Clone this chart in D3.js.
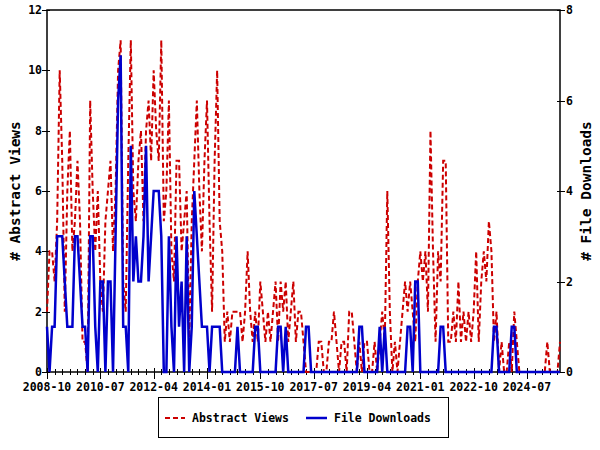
<!DOCTYPE html>
<html><head><meta charset="utf-8">
<script src="https://cdn.jsdelivr.net/npm/d3@7/dist/d3.min.js"></script>
<style>body{margin:0;background:#fff}svg{display:block}text{font-family:"DejaVu Sans Mono",monospace;font-weight:bold}</style>
</head><body><svg id="c" width="600" height="450"></svg>
<script>
const startYear = 2008, startMonth = 10;
const tickLabels = ["2008-10","2010-07","2012-04","2014-01","2015-10","2017-07","2019-04","2021-01","2022-10","2024-07"];
const abstractViews = [2,4,4,3,5,10,7,2,6,8,4,5,7,5,1,1,0,9,6,4,6,3,2,5,6,7,4,6,10,11,3,2,7,11,6,5,7,8,5,8,9,7,10,8,7,11,5,6,9,4,3,7,7,4,5,6,1,5,7,9,6,4,7,9,5,2,7,10,5,4,1,2,1,2,2,2,2,1,2,4,2,1,2,1,3,2,1,2,1,2,3,1,3,2,3,1,2,3,1,2,2,1,0,0,0,0,0,1,1,0,0,1,1,2,1,0,1,1,0,2,2,1,0,1,0,1,1,0,0,1,0,1,2,1,6,2,0,1,0,1,2,3,2,3,2,1,3,4,3,4,2,8,4,1,4,3,7,7,1,1,2,1,3,1,2,1,2,1,2,4,1,3,4,3,5,4,1,2,0,1,0,0,1,0,2,1,0,0,0,0,0,0,0,0,0,0,0,1,0,0,0,0,1];
const fileDownloads = [1,0,1,1,3,3,3,2,1,1,1,3,3,2,1,1,0,3,3,1,0,2,2,0,2,2,0,3,6,7,1,1,0,5,2,3,2,2,3,5,2,3,4,4,4,3,0,0,3,1,0,3,1,2,0,3,0,1,4,3,2,1,1,1,0,1,1,1,1,0,0,0,0,0,0,1,0,0,0,0,0,0,1,1,0,0,0,0,0,0,0,1,1,0,1,0,0,0,0,0,0,0,1,1,0,0,0,0,0,0,0,0,0,0,0,0,0,0,0,0,0,0,0,1,1,0,0,0,0,0,0,1,0,1,0,0,0,0,0,0,0,0,1,1,0,2,2,0,0,0,0,0,0,0,0,1,1,0,0,0,0,0,0,0,0,0,0,0,0,0,0,0,0,0,0,0,1,1,0,0,0,0,0,1,1,0,0,0,0,0,0,0,0,0,0,0,0,0,0,0,0,0,0];
const leftTicks = [0,2,4,6,8,10,12];
const rightTicks = [0,2,4,6,8];
const seriesNames = ["Abstract Views","File Downloads"];

const svg = d3.select("#c");
const L=47, R=560, T=10, B=372;
const n = abstractViews.length;
const x = d3.scaleLinear().domain([0, n-1]).range([L, R]);
const yL = d3.scaleLinear().domain([0,12]).range([B, T]);
const yR = d3.scaleLinear().domain([0,8]).range([B, T]);
const FS = 11.5;

svg.append("rect").attr("x",L).attr("y",T).attr("width",R-L).attr("height",B-T)
  .attr("fill","none").attr("stroke","#000").attr("stroke-width",1.5);

const xg = svg.append("g").attr("transform",`translate(0,${B})`);
const minor = d3.range(0, n, 3);
xg.selectAll("line.mi").data(minor).join("line")
  .attr("x1",d=>Math.round(x(d))+0.5).attr("x2",d=>Math.round(x(d))+0.5)
  .attr("y1",-3).attr("y2",3).attr("stroke","#000");
const majorIdx = tickLabels.map((_,i)=>i*21);
xg.selectAll("line.ma").data(majorIdx).join("line")
  .attr("x1",d=>Math.round(x(d))+0.5).attr("x2",d=>Math.round(x(d))+0.5)
  .attr("y1",-4).attr("y2",7).attr("stroke","#000");
xg.selectAll("text").data(tickLabels).join("text")
  .attr("x",(d,i)=>x(majorIdx[i])).attr("y",18.5).attr("text-anchor","middle")
  .attr("font-size",FS).text(d=>d);

const lg = svg.append("g");
lg.selectAll("line").data(leftTicks).join("line")
  .attr("x1",L-5).attr("x2",L+3).attr("y1",d=>Math.round(yL(d))+0.5).attr("y2",d=>Math.round(yL(d))+0.5).attr("stroke","#000");
lg.selectAll("text").data(leftTicks).join("text")
  .attr("x",L-5).attr("y",d=>yL(d)+4).attr("text-anchor","end").attr("font-size",FS).text(d=>d);

const rg = svg.append("g");
rg.selectAll("line").data(rightTicks).join("line")
  .attr("x1",R-3).attr("x2",R+5).attr("y1",d=>Math.round(yR(d))+0.5).attr("y2",d=>Math.round(yR(d))+0.5).attr("stroke","#000");
rg.selectAll("text").data(rightTicks).join("text")
  .attr("x",R+6).attr("y",d=>yR(d)+4).attr("text-anchor","start").attr("font-size",FS).text(d=>d);

svg.append("text").attr("transform",`translate(20,${(T+B)/2}) rotate(-90)`)
  .attr("text-anchor","middle").attr("font-size",14.5).attr("font-weight","normal").text("# Abstract Views");
svg.append("text").attr("transform",`translate(591,${(T+B)/2}) rotate(-90)`)
  .attr("text-anchor","middle").attr("font-size",14.5).attr("font-weight","normal").text("# File Downloads");

const lineL = d3.line().x((d,i)=>x(i)).y(d=>yL(d));
const lineR = d3.line().x((d,i)=>x(i)).y(d=>yR(d));
svg.append("path").datum(abstractViews).attr("d",lineL).attr("fill","none")
  .attr("stroke","#cc0000").attr("stroke-width",2).attr("stroke-dasharray","5,3");
svg.append("path").datum(fileDownloads).attr("d",lineR).attr("fill","none")
  .attr("stroke","#0000cc").attr("stroke-width",2.5);

const lgd = svg.append("g");
lgd.append("rect").attr("x",158.5).attr("y",397.5).attr("width",290).attr("height",40)
  .attr("fill","#fff").attr("stroke","#000").attr("stroke-width",1);
lgd.append("line").attr("x1",165).attr("x2",185).attr("y1",418).attr("y2",418)
  .attr("stroke","#cc0000").attr("stroke-width",2).attr("stroke-dasharray","5,3");
lgd.append("text").attr("x",192).attr("y",422).attr("font-size",FS).text(seriesNames[0]);
lgd.append("line").attr("x1",306).attr("x2",327).attr("y1",418).attr("y2",418)
  .attr("stroke","#0000cc").attr("stroke-width",2.5);
lgd.append("text").attr("x",334).attr("y",422).attr("font-size",FS).text(seriesNames[1]);
</script></body></html>
